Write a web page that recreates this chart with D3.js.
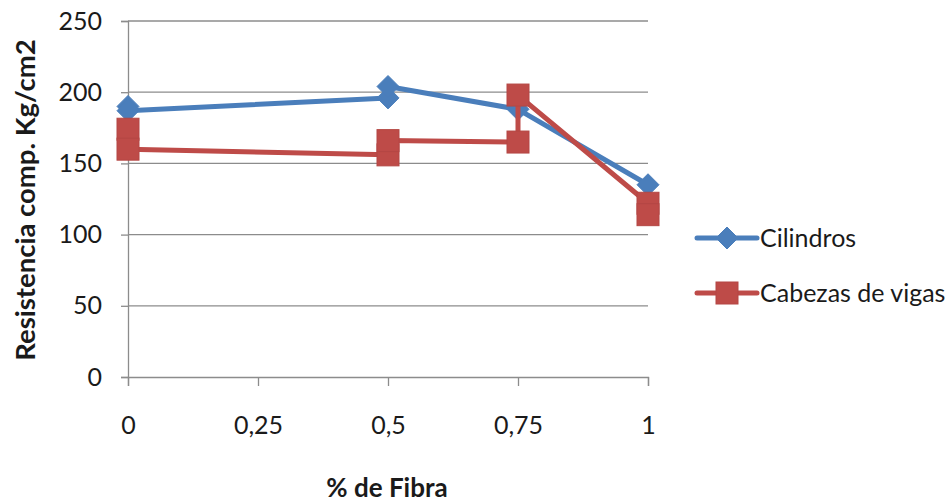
<!DOCTYPE html>
<html>
<head>
<meta charset="utf-8">
<script src="https://cdn.jsdelivr.net/npm/d3@7"></script>
<style>
  html, body { margin: 0; padding: 0; background: #ffffff; }
  svg { display: block; }
  text { font-family: Lato, "Open Sans", sans-serif; fill: #1a1a1a; }
</style>
</head>
<body>
<svg id="chart" width="951" height="504"></svg>
<script>
// Compression strength versus fibre content
const seriesNames = ["Cilindros", "Cabezas de vigas"];
const cilindrosX = [0, 0, 0.5, 0.5, 0.75, 1];
const cilindrosY = [190, 187, 196, 204, 188, 135];
const vigasX = [0, 0, 0.5, 0.5, 0.75, 0.75, 1, 1];
const vigasY = [174, 160, 156, 166, 165, 198, 122, 114];
const xTicks = [0, 0.25, 0.5, 0.75, 1];
const yTicks = [0, 50, 100, 150, 200, 250];
const xTitle = "% de Fibra";
const yTitle = "Resistencia comp. Kg/cm2";

const colors = ["#4A7EBB", "#BE4B48"];

const svg = d3.select("#chart");
const plot = { left: 128, right: 648, top: 21, bottom: 377 };

const x = d3.scaleLinear().domain([0, 1]).range([plot.left, plot.right]);
const y = d3.scaleLinear().domain([0, 250]).range([plot.bottom, plot.top]);

const locale = d3.formatLocale({ decimal: ",", thousands: ".", grouping: [3], currency: ["", "€"] });
const fmt = v => locale.format("~g")(v);

// Horizontal gridlines
svg.append("g")
  .selectAll("line")
  .data(yTicks.filter(d => d > 0))
  .join("line")
  .attr("x1", plot.left).attr("x2", plot.right)
  .attr("y1", d => y(d)).attr("y2", d => y(d))
  .attr("stroke", "#8c8c8c").attr("stroke-width", 1.3);

// Y axis
const yAxis = svg.append("g")
  .attr("transform", `translate(${plot.left},0)`)
  .call(d3.axisLeft(y).tickValues(yTicks).tickSize(7).tickPadding(19).tickFormat(d => d));
yAxis.select(".domain").attr("stroke", "#8c8c8c").attr("stroke-width", 1.3);
yAxis.selectAll(".tick line").attr("stroke", "#8c8c8c").attr("stroke-width", 1.3);
yAxis.selectAll("text").attr("font-size", 25).attr("fill", "#1a1a1a")
  .style("font-family", "Lato, 'Open Sans', sans-serif");

// X axis
const xAxis = svg.append("g")
  .attr("transform", `translate(0,${plot.bottom})`)
  .call(d3.axisBottom(x).tickValues(xTicks).tickSize(9).tickPadding(30).tickFormat(fmt));
xAxis.select(".domain").attr("stroke", "#8c8c8c").attr("stroke-width", 1.3);
xAxis.selectAll(".tick line").attr("stroke", "#8c8c8c").attr("stroke-width", 1.3);
xAxis.selectAll("text").attr("font-size", 25).attr("fill", "#1a1a1a")
  .style("font-family", "Lato, 'Open Sans', sans-serif");

// Axis titles
svg.append("text")
  .attr("x", 387).attr("y", 497)
  .attr("text-anchor", "middle").attr("font-size", 26).attr("font-weight", "bold")
  .text(xTitle);
svg.append("text")
  .attr("transform", `translate(35,${(plot.top + plot.bottom) / 2 + 1}) rotate(-90)`)
  .attr("text-anchor", "middle").attr("font-size", 27.5).attr("font-weight", "bold")
  .text(yTitle);

// Series lines and markers
const line = d3.line()
  .x(d => x(d[0])).y(d => y(d[1]));

const series = [
  { name: seriesNames[0], pts: d3.zip(cilindrosX, cilindrosY), color: colors[0], shape: "diamond" },
  { name: seriesNames[1], pts: d3.zip(vigasX, vigasY), color: colors[1], shape: "square" }
];

function marker(g, shape, cx, cy, color) {
  if (shape === "diamond") {
    const r = 11;
    g.append("path")
      .attr("d", `M${cx},${cy - r}L${cx + r},${cy}L${cx},${cy + r}L${cx - r},${cy}Z`)
      .attr("fill", color).attr("stroke", color).attr("stroke-width", 1);
  } else {
    const s = 22;
    g.append("rect")
      .attr("x", cx - s / 2).attr("y", cy - s / 2).attr("width", s).attr("height", s)
      .attr("fill", color).attr("stroke", d3.color(color).darker(0.15)).attr("stroke-width", 1);
  }
}

series.forEach(s => {
  const g = svg.append("g");
  g.append("path")
    .attr("d", line(s.pts))
    .attr("fill", "none").attr("stroke", s.color)
    .attr("stroke-width", 5).attr("stroke-linejoin", "round").attr("stroke-linecap", "round");
  s.pts.forEach(p => marker(g, s.shape, x(p[0]), y(p[1]), s.color));
});

// Legend
const legendY = [238, 293];
series.forEach((s, i) => {
  const g = svg.append("g");
  g.append("line")
    .attr("x1", 697).attr("x2", 757).attr("y1", legendY[i]).attr("y2", legendY[i])
    .attr("stroke", s.color).attr("stroke-width", 5).attr("stroke-linecap", "round");
  marker(g, s.shape, 727, legendY[i], s.color);
  g.append("text")
    .attr("x", 760).attr("y", legendY[i] + 9)
    .attr("font-size", 25)
    .text(s.name);
});
</script>
</body>
</html>
